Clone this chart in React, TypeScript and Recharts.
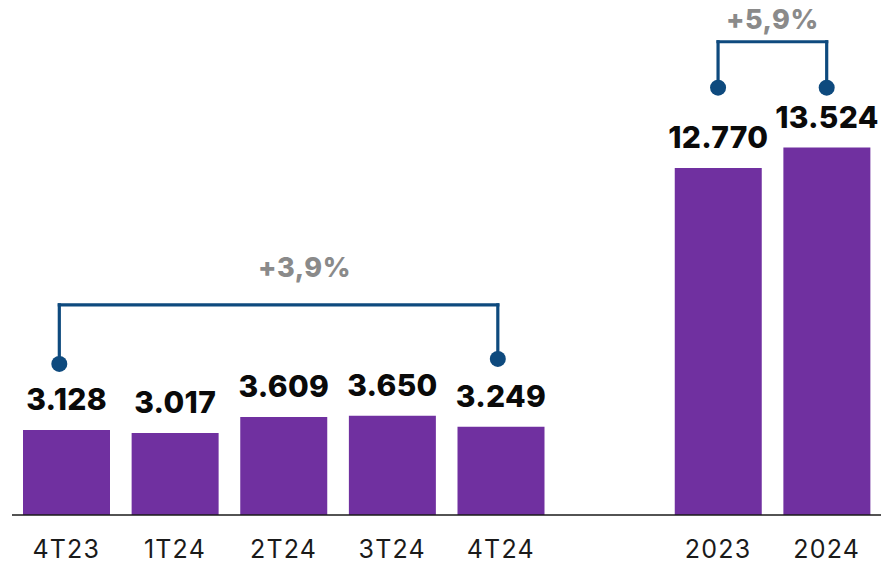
import React from 'react';
import { BarChart, Bar, XAxis, YAxis, LabelList, ReferenceLine, ReferenceDot } from 'recharts';

const categories = ['4T23', '1T24', '2T24', '3T24', '4T24', ' ', '2023', '2024'];
const values = [3128, 3017, 3609, 3650, 3249, null, 12770, 13524];
const valueLabels = ['3.128', '3.017', '3.609', '3.650', '3.249', '', '12.770', '13.524'];

// brackets comparing two bars: level of the top line and of each end dot (in chart units)
const bracketFrom = ['4T23', '2023'];
const bracketTo = ['4T24', '2024'];
const bracketLevel = [7735, 17420];
const bracketFromEnd = [5560, 15730];
const bracketToEnd = [5745, 15730];
const bracketText = ['+3,9%', '+5,9%'];

// styling for brackets (pixel nudges)
const bracketShift = [[-7, -3], [0, 0]];
const bracketTextGap = [28, 13];
const bracketTextDx = [26, 0];

const data = categories.map((c, i) => ({ name: c, value: values[i], label: valueLabels[i] }));

const font = 'Inter, "Open Sans", sans-serif';
const purple = '#7030A0';
const navy = '#0E4A7E';
const grey = '#8A8A8A';

const seg = (dx1: number, dx2: number) => (p: any) => (
  <line
    x1={p.x1 + dx1}
    y1={p.y1}
    x2={p.x2 + dx2}
    y2={p.y2}
    stroke={navy}
    strokeWidth={3.2}
    strokeLinecap="square"
  />
);

const dot = (dx: number) => (p: any) => <circle cx={p.cx + dx} cy={p.cy} r={8} fill={navy} />;

export default function App() {
  return (
    <div style={{ position: 'absolute', left: 0, top: 0, width: 886, height: 564, background: '#fff' }}>
      <BarChart width={886} height={564} data={data} margin={{ top: 26, right: 5, left: 12, bottom: 0 }}>
        <XAxis
          dataKey="name"
          interval={0}
          height={49}
          tickLine={false}
          tickSize={0}
          tickMargin={25}
          axisLine={{ stroke: '#1a1a1a', strokeWidth: 1.5 }}
          tick={{ fill: '#1a1a1a', fontSize: 25, fontFamily: font, letterSpacing: 1.2 }}
        />
        <YAxis hide domain={[0, 18000]} />
        <Bar dataKey="value" fill={purple} barSize={87} isAnimationActive={false}>
          <LabelList
            dataKey="label"
            position="top"
            offset={20}
            style={{ fill: '#0a0a0a', fontSize: 30, fontWeight: 800, fontFamily: font, letterSpacing: 0.3 }}
          />
        </Bar>
        {bracketFrom.map((from, i) => {
          const to = bracketTo[i];
          const [s1, s2] = bracketShift[i];
          return (
            <React.Fragment key={from}>
              <ReferenceLine
                segment={[{ x: from, y: bracketLevel[i] }, { x: to, y: bracketLevel[i] }]}
                shape={seg(s1, s2)}
                label={{
                  content: (props: any) => {
                    const vb = props.viewBox;
                    return (
                      <text
                        x={vb.x + vb.width / 2 + (s1 + s2) / 2 + bracketTextDx[i]}
                        y={vb.y - bracketTextGap[i]}
                        textAnchor="middle"
                        fill={grey}
                        fontSize={27}
                        fontWeight={800}
                        fontFamily={font}
                        letterSpacing={0.5}
                      >
                        {bracketText[i]}
                      </text>
                    );
                  },
                }}
              />
              <ReferenceLine
                segment={[{ x: from, y: bracketLevel[i] }, { x: from, y: bracketFromEnd[i] }]}
                shape={seg(s1, s1)}
              />
              <ReferenceLine
                segment={[{ x: to, y: bracketLevel[i] }, { x: to, y: bracketToEnd[i] }]}
                shape={seg(s2, s2)}
              />
              <ReferenceDot x={from} y={bracketFromEnd[i]} shape={dot(s1)} />
              <ReferenceDot x={to} y={bracketToEnd[i]} shape={dot(s2)} />
            </React.Fragment>
          );
        })}
      </BarChart>
    </div>
  );
}
